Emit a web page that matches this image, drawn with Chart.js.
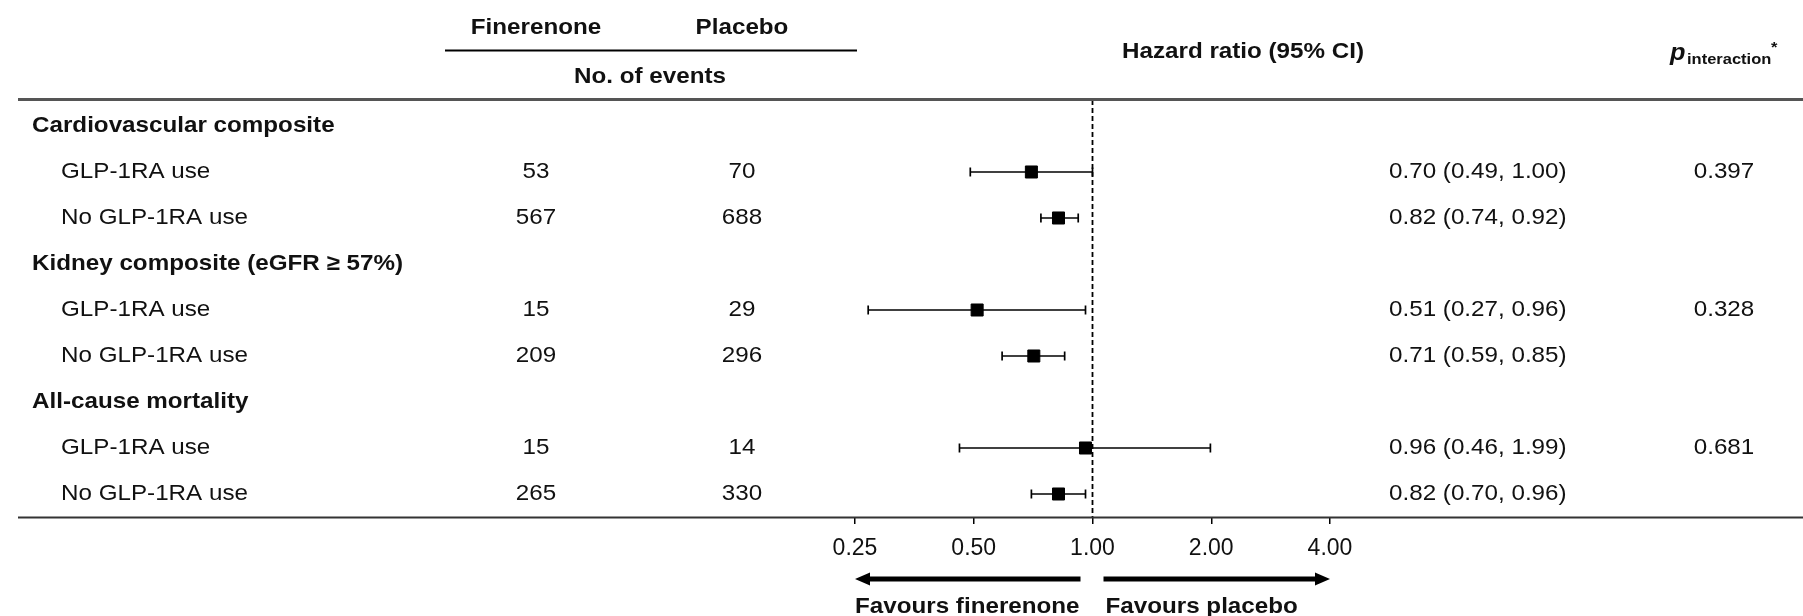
<!DOCTYPE html>
<html><head><meta charset="utf-8">
<script src="https://cdn.jsdelivr.net/npm/chart.js@4.4.1/dist/chart.umd.min.js"></script>
<style>html,body{margin:0;padding:0;background:#fff;overflow:hidden}canvas{display:block}</style>
</head><body>
<canvas id="c" width="1803" height="616"></canvas>
<script>
// ---- data ----
const rowLabels = ['Cardiovascular composite','GLP-1RA use','No GLP-1RA use',
  'Kidney composite (eGFR \u2265 57%)','GLP-1RA use','No GLP-1RA use',
  'All-cause mortality','GLP-1RA use','No GLP-1RA use'];
const rowIsHeading = [true,false,false,true,false,false,true,false,false];
const finerenoneEvents = [null,53,567,null,15,209,null,15,265];
const placeboEvents = [null,70,688,null,29,296,null,14,330];
const hazardRatio = [null,0.70,0.82,null,0.51,0.71,null,0.96,0.82];
const ciLower = [null,0.49,0.74,null,0.27,0.59,null,0.46,0.70];
const ciUpper = [null,1.00,0.92,null,0.96,0.85,null,1.99,0.96];
const pInteraction = [null,'0.397',null,null,'0.328',null,null,'0.681',null];
const xTicks = [0.25,0.5,1,2,4];
const favourLeft = 'Favours finerenone';
const favourRight = 'Favours placebo';

// ---- drawing helpers ----
const FONT = '"Liberation Sans", Arial, Helvetica, sans-serif';
const SX = 1.1;
const INK = '#111';
function txt(ctx, s, x, y, size, weight, align, baseline, style) {
  ctx.save();
  ctx.fillStyle = INK;
  ctx.font = `${style || 'normal'} ${weight} ${size}px ${FONT}`;
  ctx.textAlign = align;
  ctx.textBaseline = baseline || 'middle';
  ctx.translate(x, y);
  ctx.scale(SX, 1);
  ctx.fillText(s, 0, 0);
  ctx.restore();
}
function hline(ctx, x1, x2, y, w, color) {
  ctx.save();
  ctx.strokeStyle = color; ctx.lineWidth = w;
  ctx.beginPath(); ctx.moveTo(x1, y); ctx.lineTo(x2, y); ctx.stroke();
  ctx.restore();
}
function arrow(ctx, xFrom, xTip, y) {
  const dir = Math.sign(xTip - xFrom);
  const headLen = 15, headHalf = 6.5, thick = 5;
  ctx.save();
  ctx.fillStyle = '#000';
  const xBase = xTip - dir * headLen;
  ctx.fillRect(Math.min(xFrom, xBase), y - thick / 2, Math.abs(xBase - xFrom), thick);
  ctx.beginPath();
  ctx.moveTo(xTip, y);
  ctx.lineTo(xBase, y - headHalf);
  ctx.lineTo(xBase, y + headHalf);
  ctx.closePath();
  ctx.fill();
  ctx.restore();
}

const tablePlugin = {
  id: 'tablePlugin',
  afterDraw(chart) {
    const ctx = chart.ctx;
    const xs = chart.scales.x, ys = chart.scales.y;
    // header
    txt(ctx, 'Finerenone', 536, 28, 22, 'bold', 'center');
    txt(ctx, 'Placebo', 742, 28, 22, 'bold', 'center');
    hline(ctx, 445, 857, 50.5, 1.8, '#000');
    txt(ctx, 'No. of events', 650, 77, 22, 'bold', 'center');
    txt(ctx, 'Hazard ratio (95% CI)', 1243, 52, 22, 'bold', 'center');
    txt(ctx, 'p', 1670, 59.5, 23, 'bold', 'left', 'alphabetic', 'italic');
    txt(ctx, 'interaction', 1687, 64, 15, 'bold', 'left', 'alphabetic');
    txt(ctx, '*', 1771, 52, 15, 'bold', 'left', 'alphabetic');
    hline(ctx, 18, 1803, 99.5, 3, '#555');
    // rows
    rowLabels.forEach((lab, i) => {
      const y = ys.getPixelForValue(i);
      if (rowIsHeading[i]) {
        txt(ctx, lab, 32, y, 22, 'bold', 'left');
      } else {
        txt(ctx, lab, 61, y, 22, 'normal', 'left');
      }
      if (finerenoneEvents[i] != null) txt(ctx, String(finerenoneEvents[i]), 536, y, 22, 'normal', 'center');
      if (placeboEvents[i] != null) txt(ctx, String(placeboEvents[i]), 742, y, 22, 'normal', 'center');
      if (hazardRatio[i] != null) {
        const s = `${hazardRatio[i].toFixed(2)} (${ciLower[i].toFixed(2)}, ${ciUpper[i].toFixed(2)})`;
        txt(ctx, s, 1389, y, 22, 'normal', 'left');
      }
      if (pInteraction[i] != null) txt(ctx, pInteraction[i], 1724, y, 22, 'normal', 'center');
    });
    // bottom rule
    hline(ctx, 18, 1803, 517.5, 2, '#333');
    // arrows and favours text
    const p1 = xs.getPixelForValue(1);
    arrow(ctx, p1 - 12, xs.getPixelForValue(xTicks[0]), 579);
    arrow(ctx, p1 + 11, xs.getPixelForValue(xTicks[xTicks.length - 1]), 579);
    txt(ctx, favourLeft, xs.getPixelForValue(xTicks[0]), 607, 22, 'bold', 'left');
    txt(ctx, favourRight, p1 + 13, 607, 22, 'bold', 'left');
  }
};

// ---- datasets ----
const datasets = [];
datasets.push({
  type: 'scatter', label: 'HR',
  data: hazardRatio.map((v, i) => v == null ? null : { x: v, y: i }).filter(Boolean),
  pointStyle: 'rect', pointRadius: 8.5, pointBackgroundColor: '#000',
  pointBorderColor: '#000', pointBorderWidth: 1, order: 0
});
hazardRatio.forEach((v, i) => {
  if (v == null) return;
  datasets.push({
    type: 'line', label: 'CI ' + i,
    data: [{ x: ciLower[i], y: i }, { x: ciUpper[i], y: i }],
    borderColor: '#000', borderWidth: 1.7, fill: false,
    pointStyle: 'line', pointRotation: 90, pointRadius: 4.5,
    pointBorderColor: '#000', pointBorderWidth: 1.7, order: 1
  });
});
datasets.push({
  type: 'line', label: 'null line',
  data: [{ x: 1, y: -0.565 }, { x: 1, y: 8.5 }],
  borderColor: '#000', borderWidth: 1.8, borderDash: [5, 3],
  pointRadius: 0, fill: false, order: 2
});

new Chart(document.getElementById('c'), {
  type: 'scatter',
  data: { datasets },
  options: {
    responsive: false, animation: false, devicePixelRatio: 1, events: [],
    layout: { padding: { left: 855, right: 473, top: 100, bottom: 59 } },
    plugins: { legend: { display: false }, tooltip: { enabled: false } },
    scales: {
      x: {
        type: 'logarithmic', position: 'bottom', min: 0.25, max: 4,
        afterBuildTicks: s => { s.ticks = xTicks.map(v => ({ value: v })); },
        afterFit: s => { s.height = 40; },
        ticks: {
          callback: v => Number(v).toFixed(2), autoSkip: false, maxRotation: 0,
          font: { family: FONT, size: 23 }, color: INK, padding: 11
        },
        grid: { drawOnChartArea: false, drawTicks: true, tickLength: 7, color: '#000', lineWidth: 1.5 },
        border: { display: false }
      },
      y: { type: 'linear', min: -0.565, max: 8.5, reverse: true, display: false }
    }
  },
  plugins: [tablePlugin]
});
</script>
</body></html>
